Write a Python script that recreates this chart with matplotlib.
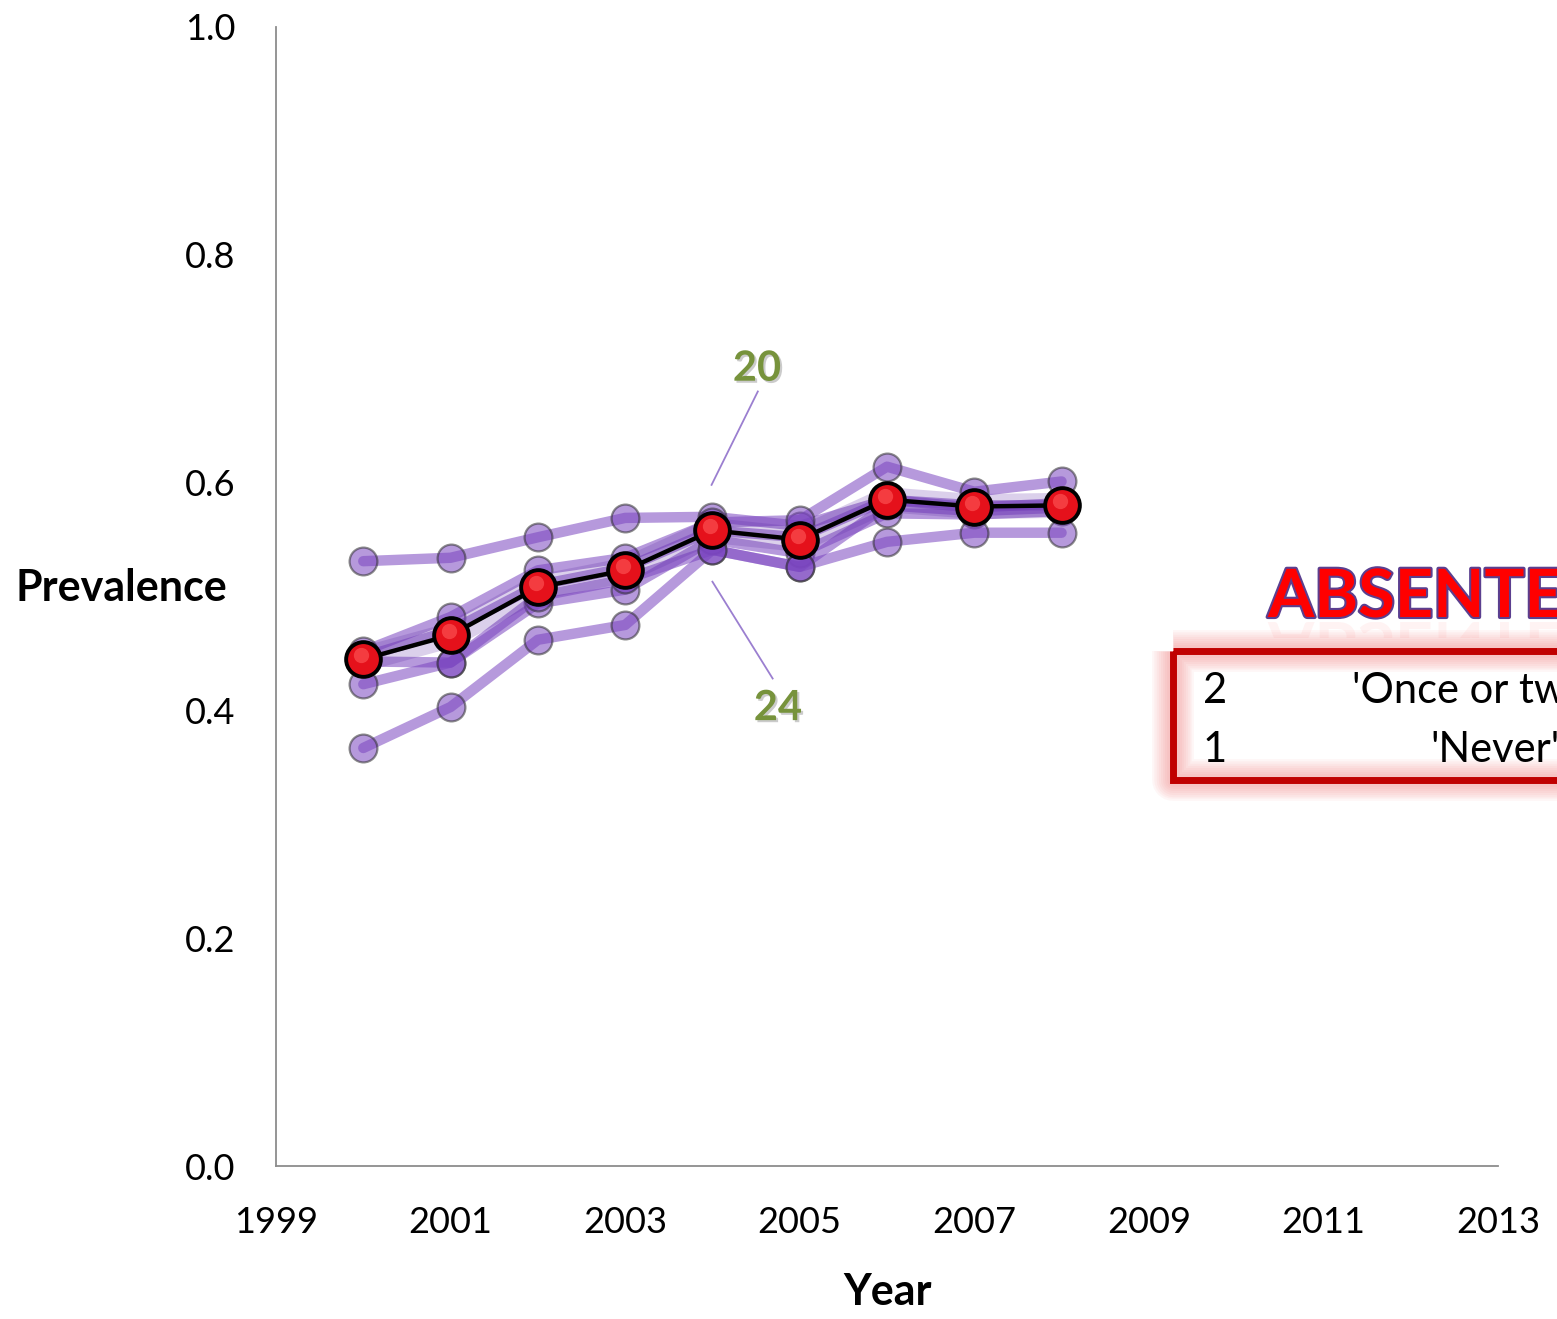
import matplotlib
matplotlib.use("Agg")
import matplotlib.pyplot as plt
import matplotlib.patheffects as pe
from matplotlib.patches import Rectangle, PathPatch
from matplotlib.textpath import TextPath
from matplotlib.font_manager import FontProperties
from matplotlib.transforms import Affine2D, offset_copy

plt.rcParams['font.family'] = ['Lato', 'DejaVu Sans']

# survey years and prevalence per group
years = [2000, 2001, 2002, 2003, 2004, 2005, 2006, 2007, 2008]
group_a = [0.531, 0.534, 0.552, 0.569, 0.570, 0.562, 0.585, 0.578, 0.582]
group_b = [0.452, 0.482, 0.523, 0.534, 0.565, 0.567, 0.614, 0.592, 0.601]
group_c = [0.447, 0.470, 0.510, 0.525, 0.558, 0.552, 0.585, 0.580, 0.580]
group_d = [0.443, 0.442, 0.494, 0.506, 0.550, 0.538, 0.573, 0.572, 0.575]
group_e = [0.423, 0.442, 0.500, 0.515, 0.541, 0.526, 0.580, 0.575, 0.578]
group_f = [0.367, 0.403, 0.462, 0.475, 0.541, 0.526, 0.548, 0.556, 0.556]
groups = [group_a, group_b, group_c, group_d, group_e, group_f]
overall = [0.445, 0.466, 0.508, 0.523, 0.558, 0.550, 0.585, 0.579, 0.580]

x_ticks = [1999, 2001, 2003, 2005, 2007, 2009, 2011, 2013]
y_ticks = [0.0, 0.2, 0.4, 0.6, 0.8, 1.0]

# callout labels: text, label position, line start, line end
callouts = [
    ("20", (2004.51, 0.700), (2004.52, 0.680), (2003.99, 0.598)),
    ("24", (2004.75, 0.402), (2004.69, 0.428), (2004.00, 0.513)),
]

legend_codes = ["2", "1"]
legend_labels = ["'Once or twice a week'", "'Never'"]

W, H = 1557, 1319
fig = plt.figure(figsize=(W / 100, H / 100), dpi=100)
ax = fig.add_axes([276 / W, 153 / H, 1222 / W, 1139 / H])

for g in groups:
    ax.plot(years, g, color='#7A45C0', alpha=0.55, lw=7.5, solid_capstyle='round',
            solid_joinstyle='round', marker='o', ms=20, mfc='#7A45C0',
            mec='#303030', mew=1.6, zorder=2)

# mean line with purple halo and red "spheres"
ax.plot(years, overall, color='#5E2CA5', lw=18, alpha=0.22,
        solid_capstyle='round', zorder=3)
ax.plot(years, overall, color='black', lw=3.2, marker='o', ms=25,
        mfc='#E5111B', mec='black', mew=2.8, zorder=4)
hi = offset_copy(ax.transData, fig=fig, x=-2, y=4, units='dots')
ax.plot(years, overall, ls='none', marker='o', ms=11, mfc='#FF5A5A',
        mec='none', alpha=0.6, transform=hi, zorder=5)

for txt, pos, p0, p1 in callouts:
    ax.plot([p0[0], p1[0]], [p0[1], p1[1]], color='#9B7FD0', lw=1.3, zorder=1)
    ax.text(pos[0], pos[1], txt, color='#77933C', fontsize=30, weight='bold',
            ha='center', va='center', zorder=6,
            path_effects=[pe.SimplePatchShadow(offset=(1.5, -1.5), shadow_rgbFace='#999999', alpha=0.5),
                          pe.Normal()])

ax.set_xlim(1999, 2013)
ax.set_ylim(0, 1)
ax.set_xticks(x_ticks)
ax.set_yticks(y_ticks)
ax.set_yticklabels([f"{v:.1f}" for v in y_ticks])
ax.tick_params(length=0, labelsize=26)
ax.tick_params(axis='y', pad=29)
ax.tick_params(axis='x', pad=29)
for s in ['top', 'right']:
    ax.spines[s].set_visible(False)
for s in ['left', 'bottom']:
    ax.spines[s].set_color('#8C8C8C')
    ax.spines[s].set_linewidth(1.3)

fig.text(121 / W, 1 - 588 / H, "Prevalence", fontsize=31, weight='bold',
         ha='center', va='center')
fig.text(888 / W, 1 - 1292 / H, "Year", fontsize=31, weight='bold',
         ha='center', va='center')

# overlay in pixel units for the title and code box
ov = fig.add_axes([0, 0, 1, 1], zorder=10)
ov.set_xlim(0, W)
ov.set_ylim(H, 0)
ov.axis('off')

title = "ABSENTEEISM"
ov.text(1268, 617, title, color='#FF0000', fontsize=48, weight='bold',
        ha='left', va='baseline',
        path_effects=[pe.withStroke(linewidth=3, foreground='#5B3F8F')])

# faint mirrored reflection under the title
tp = TextPath((0, 0), title, size=48 * 100 / 72,
              prop=FontProperties(family='Lato', weight='bold'))
refl = PathPatch(tp, transform=Affine2D().translate(1268, 622) + ov.transData,
                 fc='#FF8080', ec='none', alpha=0.09)
ov.add_patch(refl)
clip = Rectangle((1200, 622), 400, 16, transform=ov.transData)
refl.set_clip_path(clip)

# soft pink glow round the code box
for lw in range(30, 6, -3):
    ov.add_patch(Rectangle((1173.5, 650.5), 600, 129.5, fill=False,
                           ec='#F26B6B', lw=lw, alpha=0.06, joinstyle='round'))
ov.add_patch(Rectangle((1173.5, 650.5), 600, 129.5, fill=False,
                       ec='#C00000', lw=5))

row_y = [691, 750]
label_x = [1352, 1430]
for code, lab, y, lx in zip(legend_codes, legend_labels, row_y, label_x):
    ov.text(1203, y, code, fontsize=30, ha='left', va='center')
    ov.text(lx, y, lab, fontsize=30, ha='left', va='center')

fig.savefig("out.png", dpi=100)
